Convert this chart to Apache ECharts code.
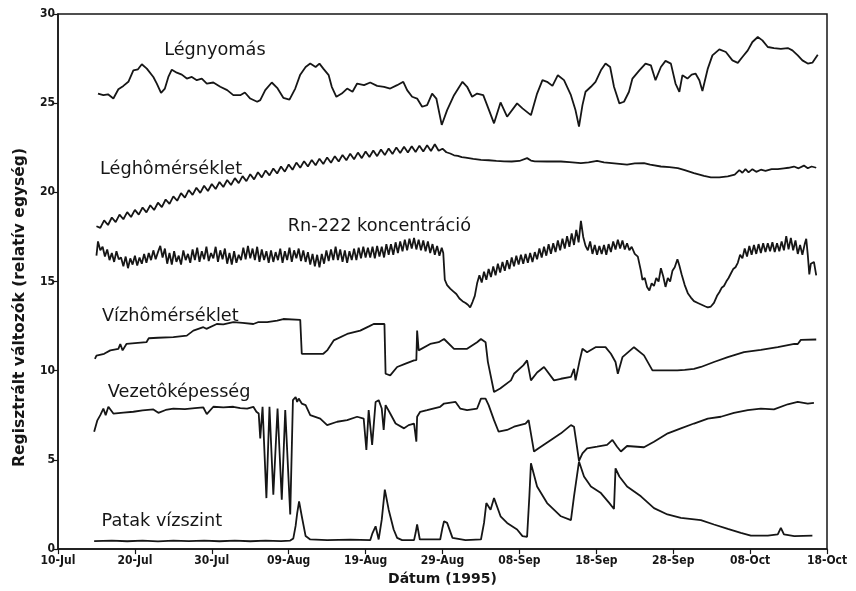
<!DOCTYPE html>
<html>
<head>
<meta charset="utf-8">
<script src="https://cdn.jsdelivr.net/npm/echarts@6/dist/echarts.min.js"></script>
<style>
  html, body { margin: 0; padding: 0; background: #fff; }
  #chart { width: 856px; height: 591px; }
</style>
</head>
<body>
<div id="chart"></div>
<script>
// x values are days counted from 10 July 1995
const tickLabels = ['10-Jul', '20-Jul', '30-Jul', '09-Aug', '19-Aug', '29-Aug', '08-Sep', '18-Sep', '28-Sep', '08-Oct', '18-Oct'];

const seriesNames = ['Légnyomás', 'Léghômérséklet', 'Rn-222 koncentráció', 'Vízhômérséklet', 'Vezetôképesség', 'Patak vízszint'];

// [day, value] — air pressure
const pressure = [
  [5.2,25.54],[5.9,25.45],[6.5,25.5],[7.2,25.26],[7.85,25.78],[8.5,25.97],[9.15,26.2],[9.8,26.84],[10.4,26.9],[10.9,27.18],
  [11.55,26.94],[12.4,26.47],[12.85,26.1],[13.4,25.58],[13.9,25.82],[14.35,26.47],[14.8,26.88],[15.45,26.71],[16.1,26.6],[16.75,26.38],
  [17.4,26.47],[18.05,26.29],[18.7,26.38],[19.35,26.1],[20.2,26.16],[21.1,25.92],[22.0,25.73],[22.8,25.45],[23.7,25.45],[24.3,25.6],
  [25.0,25.26],[25.9,25.08],[26.3,25.17],[26.95,25.73],[27.8,26.16],[28.5,25.86],[29.3,25.3],[30.1,25.2],[30.85,25.82],[31.5,26.6],
  [32.2,27.03],[32.8,27.22],[33.5,27.03],[34.0,27.22],[34.5,26.94],[35.2,26.57],[35.6,25.92],[36.2,25.36],[36.9,25.54],[37.6,25.82],
  [38.3,25.64],[38.9,26.1],[39.8,26.01],[40.6,26.16],[41.5,25.97],[42.4,25.92],[43.2,25.82],[44.1,26.01],[44.9,26.2],[45.4,25.73],
  [46.05,25.36],[46.7,25.26],[47.35,24.8],[48.0,24.89],[48.65,25.54],[49.2,25.26],[49.9,23.78],[50.6,24.61],[51.5,25.45],[52.6,26.2],
  [53.2,25.92],[53.85,25.36],[54.5,25.54],[55.3,25.45],[55.8,24.89],[56.7,23.87],[57.55,25.04],[58.4,24.24],[59.7,24.99],[60.4,24.71],
  [61.5,24.33],[62.3,25.54],[63.0,26.29],[63.6,26.2],[64.3,25.97],[65.0,26.57],[65.8,26.29],[66.7,25.45],[67.3,24.6],[67.75,23.69],
  [68.2,24.89],[68.6,25.64],[69.3,25.92],[69.9,26.2],[70.6,26.84],[71.2,27.22],[71.8,27.03],[72.3,25.92],[73.0,24.99],[73.6,25.08],
  [74.25,25.64],[74.7,26.38],[75.6,26.84],[76.4,27.22],[77.1,27.12],[77.7,26.29],[78.4,27.03],[79.0,27.37],[79.7,27.22],[80.3,26.1],
  [80.8,25.64],[81.2,26.57],[81.85,26.38],[82.4,26.6],[82.9,26.66],[83.4,26.29],[83.8,25.68],[84.5,26.94],[85.1,27.68],[86.0,28.02],
  [86.85,27.87],[87.7,27.4],[88.4,27.26],[89.0,27.59],[89.7,27.96],[90.3,28.43],[91.0,28.71],[91.6,28.52],[92.3,28.15],[93.1,28.09],
  [94.0,28.05],[94.9,28.09],[95.5,27.96],[96.2,27.68],[96.8,27.4],[97.5,27.22],[98.1,27.27],[98.8,27.72]
];

// [day, value] — air temperature
const airTemp = [
  [5,18.1],[5.5,18.01],[6,18.43],[6.5,18.17],[7,18.59],[7.5,18.33],[8,18.75],[8.5,18.49],[9,18.89],[9.5,18.62],
  [10,19.02],[10.5,18.75],[11,19.15],[11.5,18.88],[12,19.28],[12.5,19.01],[13,19.42],[13.5,19.17],[14,19.6],[14.5,19.35],
  [15,19.78],[15.5,19.53],[16,19.96],[16.5,19.71],[17,20.13],[17.5,19.86],[18,20.26],[18.5,19.97],[19,20.37],[19.5,20.08],
  [20,20.47],[20.5,20.19],[21,20.58],[21.5,20.3],[22,20.69],[22.5,20.41],[23,20.8],[23.5,20.52],[24,20.91],[24.5,20.63],
  [25,21.02],[25.5,20.73],[26,21.13],[26.5,20.84],[27,21.23],[27.5,20.95],[28,21.34],[28.5,21.06],[29,21.45],[29.5,21.16],
  [30,21.56],[30.5,21.27],[31,21.67],[31.5,21.38],[32,21.75],[32.5,21.45],[33,21.82],[33.5,21.52],[34,21.89],[34.5,21.59],
  [35,21.96],[35.5,21.66],[36,22.03],[36.5,21.73],[37,22.1],[37.5,21.8],[38,22.17],[38.5,21.86],[39,22.23],[39.5,21.92],
  [40,22.29],[40.5,21.98],[41,22.35],[41.5,22.03],[42,22.4],[42.5,22.09],[43,22.46],[43.5,22.15],[44,22.52],[44.5,22.21],
  [45,22.56],[45.5,22.24],[46,22.59],[46.5,22.26],[47,22.62],[47.5,22.29],[48,22.64],[48.5,22.32],[49,22.7],[49.5,22.33],
  [50,22.45],[50.5,22.25],[51,22.18],[51.5,22.08],[52,22.05],[52.5,21.98],[53,21.95],[54,21.88],[55,21.82],[56,21.8],
  [57,21.76],[58,21.74],[59,21.73],[60,21.76],[61,21.92],[61.5,21.78],[62,21.74],[63.6,21.73],[65.4,21.73],[66.5,21.7],
  [68,21.64],[69,21.68],[70.1,21.77],[71,21.68],[72,21.64],[73,21.6],[74,21.55],[75,21.62],[76.2,21.64],[77,21.55],
  [78.4,21.45],[79.5,21.42],[80.6,21.36],[81.5,21.25],[82.7,21.08],[84,20.92],[84.9,20.84],[86,20.84],[87.1,20.9],[88,21.0],
  [88.6,21.25],[89,21.1],[89.4,21.3],[89.8,21.12],[90.3,21.3],[90.8,21.15],[91.4,21.27],[92,21.2],[92.8,21.3],[93.6,21.3],
  [94.4,21.35],[95,21.38],[95.7,21.45],[96.3,21.35],[97,21.5],[97.5,21.35],[98,21.45],[98.6,21.38]
];

// [day, value] — Rn-222 concentration
const radon = [
  [5.0,16.45],[5.2,17.25],[5.5,16.75],[5.8,16.95],[6.1,16.4],[6.4,16.8],[6.7,16.2],[7.0,16.6],[7.3,16.1],[7.6,16.7],
  [7.9,16.25],[8.2,16.35],[8.5,15.85],[8.8,16.4],[9.1,15.75],[9.4,16.3],[9.7,15.95],[10.0,16.45],[10.3,15.9],[10.6,16.35],
  [10.9,16.0],[11.2,16.55],[11.5,16.05],[11.8,16.6],[12.1,16.2],[12.4,16.75],[12.7,16.25],[13.0,16.65],[13.3,17.0],[13.6,16.35],
  [13.9,16.85],[14.2,16.0],[14.5,16.6],[14.8,15.95],[15.1,16.7],[15.4,16.1],[15.7,16.45],[16.0,15.95],[16.3,16.75],[16.6,16.2],
  [16.9,16.55],[17.2,16.05],[17.5,16.8],[17.8,16.2],[18.1,16.9],[18.4,16.1],[18.7,16.7],[19.0,16.25],[19.3,16.95],[19.6,16.15],
  [19.9,16.6],[20.2,16.3],[20.5,16.95],[20.8,16.1],[21.1,16.75],[21.4,16.25],[21.7,16.85],[22.0,16.0],[22.3,16.6],[22.6,15.95],
  [22.9,16.7],[23.2,16.05],[23.5,16.5],[23.8,16.2],[24.1,16.9],[24.4,16.25],[24.7,17.0],[25.0,16.3],[25.3,16.85],[25.6,16.2],
  [25.9,16.95],[26.2,16.1],[26.5,16.8],[26.8,16.2],[27.1,16.7],[27.4,16.05],[27.7,16.75],[28.0,16.1],[28.3,16.65],[28.6,16.2],
  [28.9,16.85],[29.2,16.05],[29.5,16.7],[29.8,16.2],[30.1,16.9],[30.4,16.1],[30.7,16.75],[31.0,16.3],[31.3,16.85],[31.6,16.15],
  [31.9,16.75],[32.2,16.1],[32.5,16.65],[32.8,15.95],[33.1,16.55],[33.4,15.85],[33.7,16.5],[34.0,15.8],[34.3,16.55],[34.6,16.0],
  [34.9,16.75],[35.2,16.15],[35.5,16.8],[35.8,16.2],[36.1,16.95],[36.4,16.2],[36.7,16.8],[37.0,16.1],[37.3,16.75],[37.6,16.05],
  [37.9,16.7],[38.2,16.2],[38.5,16.85],[38.8,16.2],[39.1,16.9],[39.4,16.3],[39.7,16.95],[40.0,16.35],[40.3,16.9],[40.6,16.35],
  [40.9,16.95],[41.2,16.3],[41.5,17.0],[41.8,16.4],[42.1,16.95],[42.4,16.35],[42.7,17.1],[43.0,16.5],[43.3,17.1],[43.6,16.5],
  [43.9,17.2],[44.2,16.6],[44.5,17.25],[44.8,16.7],[45.1,17.35],[45.4,16.75],[45.7,17.4],[46.0,16.85],[46.3,17.45],[46.6,16.8],
  [46.9,17.35],[47.2,16.75],[47.5,17.3],[47.8,16.7],[48.1,17.25],[48.4,16.6],[48.7,17.1],[49.0,16.5],[49.3,17.0],[49.6,16.45],
  [49.9,16.9],[50.1,16.6],[50.3,15.1],[50.6,14.8],[51.0,14.6],[51.4,14.45],[51.8,14.3],[52.2,14.05],[52.6,13.9],[53.0,13.8],
  [53.3,13.7],[53.6,13.55],[53.9,13.85],[54.2,14.2],[54.5,14.9],[54.8,15.35],[55.1,14.95],[55.4,15.55],[55.7,15.1],[56.0,15.7],
  [56.3,15.25],[56.6,15.85],[56.9,15.35],[57.2,16.0],[57.5,15.5],[57.8,16.1],[58.1,15.6],[58.4,16.2],[58.7,15.7],[59.0,16.35],
  [59.3,15.85],[59.6,16.45],[59.9,15.95],[60.2,16.5],[60.5,16.0],[60.8,16.55],[61.1,16.05],[61.4,16.6],[61.7,16.1],[62.0,16.65],
  [62.3,16.25],[62.6,16.85],[62.9,16.35],[63.2,16.95],[63.5,16.45],[63.8,17.1],[64.1,16.55],[64.4,17.15],[64.7,16.65],[65.0,17.3],
  [65.3,16.75],[65.6,17.4],[65.9,16.85],[66.2,17.55],[66.5,16.95],[66.8,17.7],[67.1,17.05],[67.4,17.9],[67.7,17.2],[68.0,18.4],
  [68.3,17.5],[68.6,17.0],[68.9,16.75],[69.2,17.25],[69.5,16.55],[69.8,17.05],[70.1,16.5],[70.4,17.0],[70.7,16.55],[71.0,17.05],
  [71.3,16.5],[71.6,17.1],[71.9,16.65],[72.2,17.25],[72.5,16.8],[72.8,17.35],[73.1,16.85],[73.4,17.3],[73.7,16.8],[74.0,17.15],
  [74.3,16.75],[74.6,16.95],[75.0,16.55],[75.4,16.4],[75.8,15.6],[76.0,15.1],[76.3,15.2],[76.6,14.7],[76.9,14.5],[77.2,14.9],
  [77.5,14.75],[77.8,15.2],[78.1,15.0],[78.4,15.75],[78.7,15.3],[79.0,14.7],[79.3,15.2],[79.6,15.0],[79.9,15.6],[80.2,15.8],
  [80.55,16.25],[80.8,15.9],[81.1,15.4],[81.5,14.8],[81.9,14.35],[82.3,14.1],[82.7,13.9],[83.2,13.8],[83.7,13.7],[84.2,13.6],
  [84.5,13.55],[84.9,13.6],[85.3,13.8],[85.7,14.2],[86.0,14.4],[86.3,14.65],[86.6,14.75],[86.9,15.0],[87.2,15.2],[87.5,15.45],
  [87.8,15.7],[88.1,15.8],[88.4,16.05],[88.7,16.5],[89.0,16.3],[89.3,16.85],[89.6,16.4],[89.9,17.0],[90.2,16.5],[90.5,17.05],
  [90.8,16.55],[91.1,17.1],[91.4,16.6],[91.7,17.15],[92.0,16.65],[92.3,17.15],[92.6,16.7],[92.9,17.2],[93.2,16.65],[93.5,17.15],
  [93.8,16.7],[94.1,17.25],[94.4,16.75],[94.7,17.55],[95.0,16.8],[95.3,17.45],[95.6,16.75],[95.9,17.3],[96.2,16.55],[96.5,17.05],
  [96.8,16.5],[97.1,17.1],[97.3,17.4],[97.5,16.5],[97.7,15.4],[97.9,16.0],[98.1,15.9],[98.3,16.1],[98.6,15.35]
];

// [day, value] — water temperature
const waterTemp = [
  [4.8,10.67],[5.0,10.85],[6.0,10.95],[6.8,11.14],[7.85,11.23],[8.1,11.5],[8.4,11.14],[8.9,11.5],[11.5,11.6],[11.8,11.82],
  [13.0,11.85],[15,11.88],[16.75,11.97],[17.3,12.15],[17.6,12.25],[18.9,12.44],[19.3,12.35],[20.65,12.62],[21.5,12.6],[22.8,12.72],
  [24.0,12.68],[25.4,12.62],[26.0,12.72],[27.2,12.72],[28.5,12.81],[29.3,12.9],[31.5,12.85],[31.7,10.95],[34.5,10.95],[35.0,11.14],
  [35.85,11.7],[37.6,12.06],[39.3,12.25],[40.5,12.5],[41.05,12.62],[42.45,12.62],[42.6,9.83],[43.2,9.74],[44.1,10.21],[45.2,10.4],
  [46.3,10.58],[46.6,10.6],[46.7,12.25],[46.9,11.14],[48.4,11.5],[49.5,11.6],[50.2,11.78],[51.5,11.23],[53.2,11.23],[54.5,11.6],
  [55,11.78],[55.6,11.6],[55.9,10.5],[56.7,8.81],[57.5,9.0],[58.9,9.46],[59.3,9.83],[60.5,10.3],[61.0,10.58],[61.5,9.46],
  [62.3,9.9],[63.2,10.21],[64.5,9.46],[65.4,9.55],[66.7,9.65],[67.1,10.11],[67.3,9.46],[67.8,10.5],[68.2,11.23],[68.8,11.04],
  [69.9,11.32],[71.2,11.32],[71.9,10.95],[72.5,10.49],[72.8,9.83],[73.4,10.76],[74.9,11.32],[76.2,10.86],[77.3,10.02],[80.55,10.02],
  [81.5,10.05],[82.7,10.11],[83.6,10.21],[85.3,10.49],[87.1,10.76],[89.2,11.04],[91.4,11.17],[93.6,11.32],[95.75,11.5],[96.2,11.5],
  [96.6,11.73],[98.6,11.75]
];

// [day, value] — conductivity
const conductivity = [
  [4.7,6.58],[5.1,7.2],[5.5,7.51],[5.9,7.88],[6.2,7.51],[6.55,7.98],[7.2,7.6],[8.5,7.65],[9.8,7.7],[11.0,7.78],
  [12.4,7.83],[13.05,7.64],[14.0,7.8],[15,7.88],[16.5,7.85],[17.8,7.9],[18.9,7.94],[19.35,7.57],[20.2,7.98],[21.5,7.95],
  [22.8,7.98],[23.7,7.9],[24.6,7.88],[25.4,7.98],[25.8,7.7],[26.1,7.6],[26.3,6.21],[26.6,7.98],[27.1,2.86],[27.5,7.98],
  [28.0,3.05],[28.55,7.88],[29.1,2.77],[29.55,7.79],[30.2,1.94],[30.55,8.35],[30.9,8.53],[31.1,8.25],[31.3,8.44],[31.7,8.16],
  [32.2,8.07],[32.8,7.51],[33.0,7.42],[34.1,7.32],[35.0,6.95],[36.3,7.14],[37.6,7.23],[38.9,7.42],[39.75,7.32],[40.1,5.56],
  [40.4,7.79],[40.85,5.84],[41.3,8.25],[41.7,8.35],[42.1,7.88],[42.35,6.68],[42.6,8.07],[43.2,7.6],[43.9,7.04],[45.0,6.77],
  [45.6,6.95],[46.3,7.04],[46.6,6.02],[46.7,7.42],[47.1,7.7],[48.0,7.79],[49.7,7.98],[50.2,8.16],[51.7,8.25],[52.3,7.88],
  [53.2,7.79],[54.5,7.88],[55.0,8.44],[55.6,8.44],[56.0,8.07],[56.7,7.23],[57.3,6.58],[58.4,6.68],[59.3,6.86],[60.8,7.04],
  [61.2,7.23],[61.9,5.47],[62.5,5.65],[64.1,6.12],[65.4,6.49],[66.7,6.95],[67.1,6.86],[67.4,6.0],[67.75,4.95],[68.2,5.37],
  [68.8,5.65],[70.1,5.74],[71.4,5.84],[72.1,6.12],[72.7,5.74],[73.2,5.47],[74.0,5.78],[76.2,5.71],[77.5,6.02],[79.3,6.49],
  [81.0,6.77],[82.7,7.04],[84.5,7.32],[86.2,7.42],[87.9,7.64],[89.7,7.79],[91.4,7.88],[93.1,7.83],[94.9,8.12],[96.2,8.25],
  [97.5,8.16],[98.3,8.2]
];

// [day, value] — stream water level
const streamLevel = [
  [4.7,0.45],[7,0.48],[9,0.44],[11,0.47],[13,0.43],[15,0.47],[17,0.45],[19,0.48],[21,0.44],[23,0.47],
  [25,0.44],[27,0.47],[29,0.45],[30.2,0.48],[30.6,0.6],[30.9,1.3],[31.1,2.0],[31.35,2.68],[31.7,1.84],[32.2,0.73],
  [32.8,0.54],[35,0.5],[38,0.53],[40.6,0.5],[40.9,0.9],[41.3,1.28],[41.7,0.54],[42.1,1.65],[42.5,3.33],[43.0,2.21],
  [43.65,1.1],[44.1,0.63],[44.75,0.5],[46.3,0.5],[46.5,0.9],[46.7,1.38],[47.05,0.54],[49.7,0.54],[50.0,1.2],[50.2,1.56],
  [50.6,1.47],[51.3,0.63],[53,0.5],[55.0,0.54],[55.4,1.47],[55.7,2.58],[56.25,2.21],[56.7,2.86],[57.55,1.84],[58.4,1.47],
  [59.7,1.1],[60.4,0.73],[61.0,0.69],[61.3,3.0],[61.5,4.81],[62.3,3.51],[63.6,2.58],[65.4,1.84],[66.7,1.62],[67.1,2.96],
  [67.75,4.91],[68.4,4.07],[69.3,3.51],[70.6,3.14],[71.7,2.58],[72.3,2.25],[72.5,4.53],[73.0,4.07],[74.0,3.51],[75.8,2.96],
  [77.5,2.3],[79.25,1.94],[81.0,1.75],[83.6,1.62],[85.3,1.38],[87.1,1.13],[88.8,0.91],[90.1,0.76],[92.3,0.76],[93.6,0.82],
  [94.0,1.19],[94.4,0.82],[95.75,0.73],[98.1,0.76]
];

// where each series' name is written, in [day, value]
const nameAnchors = [[20.4, 27.94], [14.7, 21.3], [41.8, 18.07], [14.6, 13.05], [15.75, 8.76], [13.5, 1.56]];

const allData = [pressure, airTemp, radon, waterTemp, conductivity, streamLevel];

const WIDE = "'DejaVu Sans', 'Liberation Sans', Arial, sans-serif";
const NARROW = "'Liberation Sans Narrow', 'DejaVu Sans Condensed', 'Liberation Sans', Arial, sans-serif";
const INK = '#161616';

const chart = echarts.init(document.getElementById('chart'), null, { renderer: 'canvas' });

const series = allData.map((data, i) => ({
  name: seriesNames[i],
  type: 'line',
  data: data,
  showSymbol: false,
  smooth: false,
  lineStyle: { color: INK, width: 1.8 },
  itemStyle: { color: INK },
  markPoint: {
    symbol: 'circle',
    symbolSize: 1,
    itemStyle: { color: 'rgba(0,0,0,0)' },
    label: {
      show: true,
      position: 'inside',
      formatter: seriesNames[i],
      color: INK,
      fontFamily: WIDE,
      fontSize: 17.7
    },
    data: [{ coord: nameAnchors[i] }]
  }
}));

chart.setOption({
  animation: false,
  backgroundColor: '#fff',
  grid: {
    left: 58, right: 29, top: 14, bottom: 38,
    show: true, borderColor: INK, borderWidth: 1.5, backgroundColor: 'transparent'
  },
  xAxis: {
    type: 'value',
    min: 0, max: 100, interval: 10,
    name: 'Dátum (1995)',
    nameLocation: 'middle',
    nameGap: 19,
    nameTextStyle: { fontFamily: WIDE, fontWeight: 'bold', fontSize: 14, color: INK },
    axisLine: { show: true, lineStyle: { color: INK, width: 1.5 } },
    axisTick: { show: true, length: 5, lineStyle: { color: INK, width: 1.2 } },
    axisLabel: {
      fontFamily: NARROW, fontWeight: 'bold', fontSize: 12, color: INK, margin: 6,
      formatter: v => tickLabels[Math.round(v / 10)] || ''
    },
    splitLine: { show: false }
  },
  yAxis: {
    type: 'value',
    min: 0, max: 30, interval: 5,
    axisLine: { show: true, lineStyle: { color: INK, width: 1.5 } },
    axisTick: { show: true, length: 5, lineStyle: { color: INK, width: 1.2 } },
    axisLabel: { fontFamily: NARROW, fontWeight: 'bold', fontSize: 12, color: INK, margin: 3 },
    splitLine: { show: false }
  },
  graphic: [{
    type: 'text',
    left: 12,
    top: 148,
    rotation: Math.PI / 2,
    style: {
      text: 'Regisztrált változók (relatív egység)',
      fontFamily: WIDE, fontWeight: 'bold', fontSize: 15.5, fill: INK
    }
  }],
  series: series
});
</script>
</body>
</html>
